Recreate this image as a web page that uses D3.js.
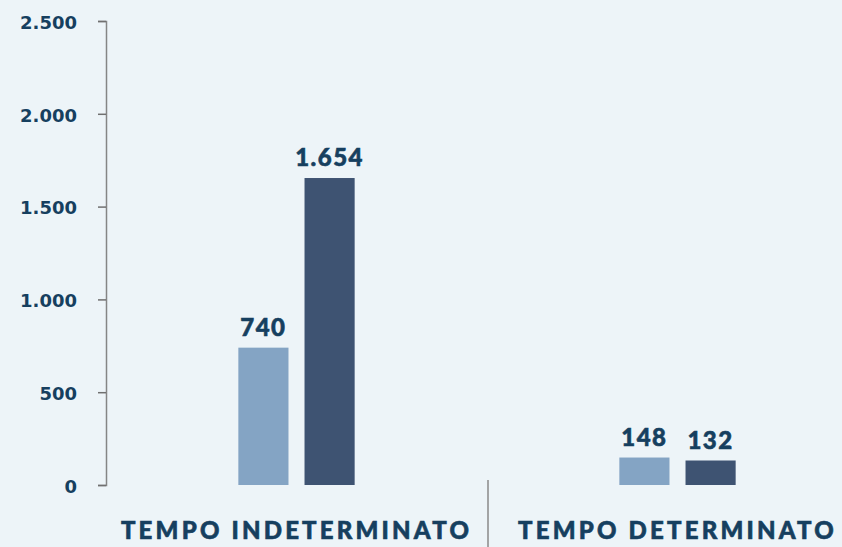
<!DOCTYPE html>
<html>
<head>
<meta charset="utf-8">
<script src="https://cdn.jsdelivr.net/npm/d3@7"></script>
<style>
  html, body { margin: 0; padding: 0; background: #edf4f8; }
  svg { display: block; }
  .tick text { font-family: "DejaVu Sans", sans-serif; font-weight: bold; fill: #163f5f; }
</style>
</head>
<body>
<div id="chart"></div>
<script>
  const categories = ["TEMPO INDETERMINATO", "TEMPO DETERMINATO"];
  const series = ["a", "b"];
  const valuesA = [740, 148];
  const valuesB = [1654, 132];
  const yTicks = [0, 500, 1000, 1500, 2000, 2500];
  const colors = ["#84a4c4", "#3e5372"];

  const W = 842, H = 547;
  const left = 106, right = 868;
  const y0 = 485, yTop = 21;

  const svg = d3.select("#chart").append("svg")
    .attr("width", W)
    .attr("height", H);

  const x0 = d3.scaleBand()
    .domain(categories)
    .range([left, right]);

  const x1 = d3.scaleBand()
    .domain(series)
    .range([0, x0.bandwidth()])
    .paddingInner(0.2424)
    .paddingOuter(2.0);

  const y = d3.scaleLinear()
    .domain([0, 2500])
    .range([y0, yTop]);

  const fmt = d3.formatLocale({decimal: ",", thousands: ".", grouping: [3], currency: ["", "€"]}).format(",d");

  // y axis
  const axis = svg.append("g")
    .attr("transform", "translate(" + left + ",0)")
    .call(d3.axisLeft(y).tickValues(yTicks).tickSize(8).tickPadding(21).tickFormat(fmt));
  axis.select(".domain").attr("stroke", "#858585").attr("stroke-width", 1.5);
  axis.selectAll(".tick line").attr("stroke", "#707070").attr("stroke-width", 1.5);
  axis.selectAll(".tick text").attr("font-size", 18).attr("dy", "0.4em");

  // bars
  const rows = categories.map((c, i) => ({cat: c, vals: [valuesA[i], valuesB[i]]}));

  const groups = svg.append("g").selectAll("g")
    .data(rows)
    .join("g")
    .attr("transform", d => "translate(" + x0(d.cat) + ",0)");

  groups.selectAll("rect")
    .data(d => d.vals.map((v, j) => ({key: series[j], v: v, j: j})))
    .join("rect")
    .attr("x", d => x1(d.key))
    .attr("width", x1.bandwidth())
    .attr("y", d => y(d.v))
    .attr("height", d => y0 - y(d.v))
    .attr("fill", d => colors[d.j]);

  groups.selectAll("text.val")
    .data(d => d.vals.map((v, j) => ({key: series[j], v: v})))
    .join("text")
    .attr("class", "val")
    .attr("x", d => x1(d.key) + x1.bandwidth() / 2)
    .attr("y", d => y(d.v) - 12)
    .attr("text-anchor", "middle")
    .attr("font-family", "Lato, sans-serif")
    .attr("font-weight", 900)
    .attr("font-size", 24)
    .attr("letter-spacing", 1.5)
    .attr("fill", "#163f5f")
    .attr("stroke", "#163f5f")
    .attr("stroke-width", 0.6)
    .text(d => fmt(d.v));

  // category labels
  svg.append("g").selectAll("text")
    .data(categories)
    .join("text")
    .attr("x", d => x0(d) + x0.bandwidth() / 2)
    .attr("y", 539)
    .attr("text-anchor", "middle")
    .attr("font-family", "Lato, sans-serif")
    .attr("font-weight", 900)
    .attr("font-size", 24)
    .attr("letter-spacing", 3.2)
    .attr("fill", "#163f5f")
    .attr("stroke", "#163f5f")
    .attr("stroke-width", 0.6)
    .text(d => d);

  // separator between categories
  svg.append("line")
    .attr("x1", x0(categories[1]) + 1)
    .attr("x2", x0(categories[1]) + 1)
    .attr("y1", 480)
    .attr("y2", H)
    .attr("stroke", "#8a8a8a")
    .attr("stroke-width", 1.5);
</script>
</body>
</html>
